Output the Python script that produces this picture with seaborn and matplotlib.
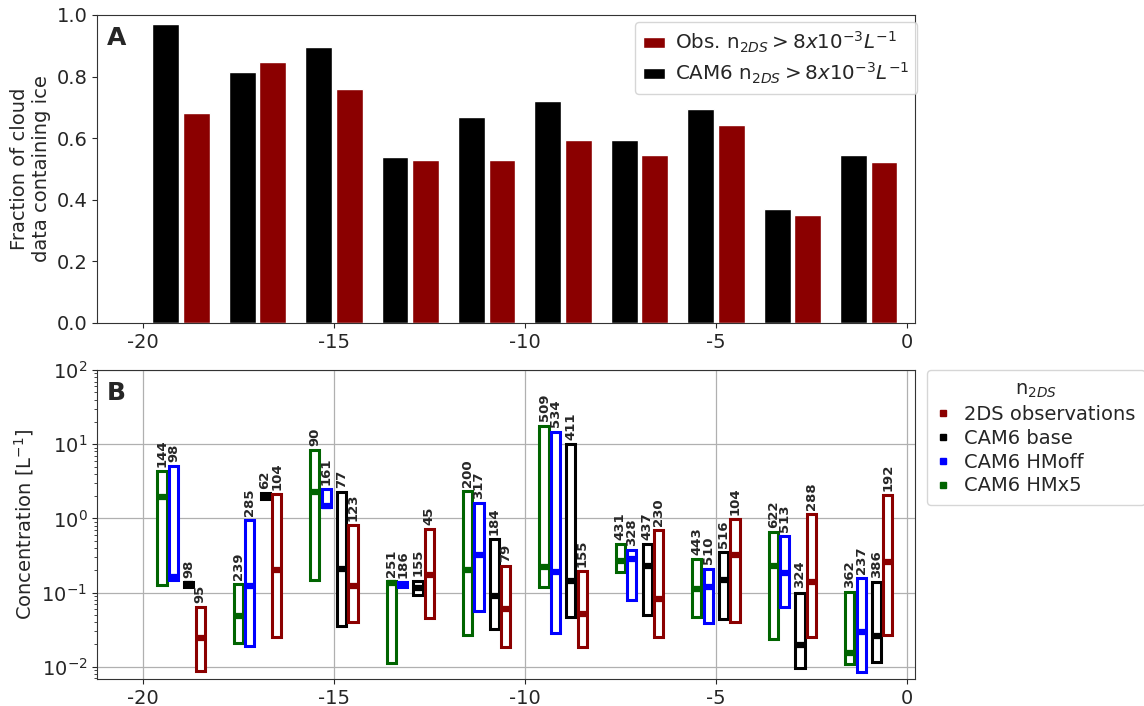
import numpy as np
import pandas as pd
import seaborn as sns
import matplotlib.pyplot as plt
from matplotlib.patches import Patch
from matplotlib.lines import Line2D

# temperature bins (deg C)
temps = [-19, -17, -15, -13, -11, -9, -7, -5, -3, -1]

# panel A: fraction of cloud data containing ice
frac_cam6 = [0.97, 0.815, 0.895, 0.54, 0.67, 0.72, 0.595, 0.695, 0.37, 0.545]
frac_obs = [0.683, 0.846, 0.759, 0.529, 0.53, 0.594, 0.546, 0.642, 0.349, 0.524]

# panel B: concentration quartiles [L-1] and sample counts
obs_q1 = [0.0088, 0.0253, 0.0407, 0.0457, 0.0187, 0.0187, 0.0256, 0.0407, 0.0253, 0.0267]
obs_med = [0.0248, 0.203, 0.123, 0.172, 0.061, 0.0512, 0.0815, 0.32, 0.137, 0.26]
obs_q3 = [0.0636, 2.15, 0.813, 0.718, 0.227, 0.195, 0.696, 0.98, 1.13, 2.07]
obs_n = [95, 104, 123, 45, 79, 155, 230, 104, 288, 192]

base_q1 = [0.12, 1.8, 0.0356, 0.092, 0.0328, 0.0476, 0.05, 0.0438, 0.0095, 0.0116]
base_med = [0.13, 2.0, 0.21, 0.115, 0.0904, 0.144, 0.23, 0.149, 0.0195, 0.0261]
base_q3 = [0.14, 2.2, 2.29, 0.145, 0.521, 9.97, 0.45, 0.355, 0.1, 0.137]
base_n = [98, 62, 77, 155, 184, 411, 437, 516, 324, 386]

hmoff_q1 = [0.149, 0.0191, 1.41, 0.118, 0.0568, 0.0283, 0.0798, 0.0387, 0.063, 0.0084]
hmoff_med = [0.16, 0.123, 1.48, 0.127, 0.323, 0.187, 0.283, 0.12, 0.183, 0.029]
hmoff_q3 = [5.1, 0.94, 2.49, 0.137, 1.61, 14.8, 0.374, 0.211, 0.583, 0.158]
hmoff_n = [98, 285, 161, 186, 317, 534, 328, 510, 513, 237]

hmx5_q1 = [0.126, 0.0208, 0.147, 0.0112, 0.0267, 0.12, 0.187, 0.0476, 0.0235, 0.0108]
hmx5_med = [1.96, 0.0486, 2.29, 0.133, 0.203, 0.218, 0.268, 0.111, 0.225, 0.0152]
hmx5_q3 = [4.3, 0.131, 8.36, 0.142, 2.36, 17.8, 0.45, 0.283, 0.66, 0.102]
hmx5_n = [144, 239, 90, 251, 200, 509, 431, 443, 622, 362]

red = "#8b0000"
green = "#006400"

sns.set_style("ticks")
plt.rcParams["font.family"] = ["DejaVu Sans"]
plt.rcParams["font.size"] = 14
plt.rcParams["axes.unicode_minus"] = False
plt.rcParams["xtick.labelsize"] = 14
plt.rcParams["ytick.labelsize"] = 14

fig = plt.figure(figsize=(11.44, 7.06), dpi=100)
axA = fig.add_axes([0.0848, 0.5425, 0.715, 0.4363])
axB = fig.add_axes([0.0848, 0.0382, 0.715, 0.4377])

# panel A
df_a = pd.DataFrame({
    "temp": temps * 2,
    "frac": frac_cam6 + frac_obs,
    "source": ["CAM6"] * len(temps) + ["Obs"] * len(temps),
})
sns.barplot(data=df_a, x="temp", y="frac", hue="source", hue_order=["CAM6", "Obs"],
            palette={"CAM6": "black", "Obs": red}, native_scale=True,
            width=0.8, gap=0.12, saturation=1, edgecolor="white", linewidth=1,
            errorbar=None, legend=False, ax=axA)
axA.set_xlim(-21.2, 0.21)
axA.set_ylim(0, 1.0)
axA.set_xticks([-20, -15, -10, -5, 0])
axA.set_xticklabels(["-20", "-15", "-10", "-5", "0"])
axA.set_yticks([0, 0.2, 0.4, 0.6, 0.8, 1.0])
axA.set_xlabel("")
axA.set_ylabel("Fraction of cloud\ndata containing ice", fontsize=14)
axA.text(0.012, 0.965, "A", transform=axA.transAxes, fontsize=18, fontweight="bold",
         va="top", ha="left")
handles_a = [Patch(facecolor=red, edgecolor="white"),
             Patch(facecolor="black", edgecolor="white")]
labels_a = [r"Obs. n$_{2DS}>8x10^{-3}L^{-1}$", r"CAM6 n$_{2DS}>8x10^{-3}L^{-1}$"]
axA.legend(handles_a, labels_a, loc="upper right", bbox_to_anchor=(1.003, 0.978),
           fontsize=14.3, handlelength=1.1, handleheight=0.5, borderaxespad=0.0,
           frameon=True, labelspacing=0.3, handletextpad=0.5)

# panel B
series = [
    ("CAM6 HMx5", green, -0.5, hmx5_q1, hmx5_med, hmx5_q3, hmx5_n),
    ("CAM6 HMoff", "blue", -0.2, hmoff_q1, hmoff_med, hmoff_q3, hmoff_n),
    ("CAM6 base", "black", 0.2, base_q1, base_med, base_q3, base_n),
    ("2DS observations", red, 0.5, obs_q1, obs_med, obs_q3, obs_n),
]
w = 0.24
for name, col, off, q1, med, q3, n in series:
    pos = np.array(temps) + off
    q1 = np.array(q1)
    q3 = np.array(q3)
    axB.bar(pos, q3 - q1, bottom=q1, width=w, facecolor="white", edgecolor=col,
            linewidth=2.2, zorder=3)
    axB.hlines(med, pos - w / 2, pos + w / 2, colors=col, linewidth=4.5, zorder=4)
    for x, top, cnt in zip(pos, q3, n):
        axB.annotate(str(cnt), (x, top), xytext=(0, 3), textcoords="offset points",
                     rotation=90, ha="center", va="bottom", fontsize=9.5,
                     fontweight="bold", zorder=5)

axB.set_yscale("log")
axB.set_ylim(10 ** -2.165, 100)
axB.set_xlim(-21.2, 0.21)
axB.set_xticks([-20, -15, -10, -5, 0])
axB.set_xticklabels(["-20", "-15", "-10", "-5", "0"])
axB.grid(True, which="major", color="#b0b0b0", linewidth=0.9)
axB.set_axisbelow(True)
axB.set_ylabel(r"Concentration [L$^{-1}$]", fontsize=14)
axB.text(0.012, 0.965, "B", transform=axB.transAxes, fontsize=18, fontweight="bold",
         va="top", ha="left")

handles_b = [Line2D([], [], marker="s", linestyle="", color=c, markersize=5)
             for c in [red, "black", "blue", green]]
labels_b = ["2DS observations", "CAM6 base", "CAM6 HMoff", "CAM6 HMx5"]
axB.legend(handles_b, labels_b, title=r"n$_{2DS}$", title_fontsize=14, fontsize=14,
           loc="upper left", bbox_to_anchor=(1.015, 1.0), labelspacing=0.25,
           handlelength=0.6, handletextpad=0.8, borderpad=0.5, borderaxespad=0.0)

for ax in (axA, axB):
    for s in ax.spines.values():
        s.set_color("#333333")

fig.savefig("out.png", dpi=100)
